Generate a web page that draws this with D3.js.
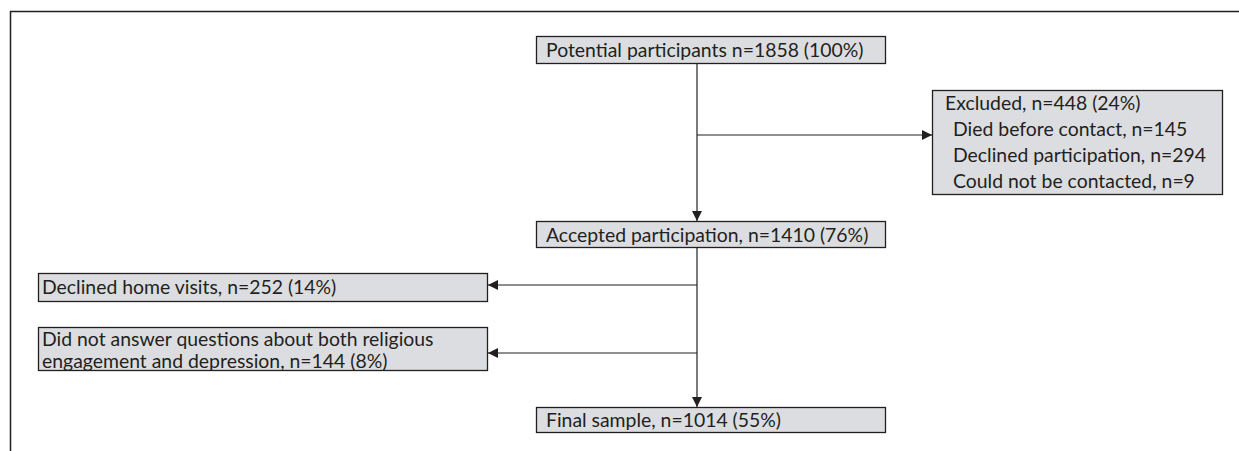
<!DOCTYPE html>
<html>
<head>
<meta charset="utf-8">
<script src="https://cdn.jsdelivr.net/npm/d3@7"></script>
<style>
  body { margin: 0; background: #fff; }
  text { font-family: Lato, "Open Sans", sans-serif; font-size: 19.4px; fill: #231f20; }
</style>
</head>
<body>
<div id="chart"></div>
<script>
// flow chart data
var mainSteps = ["Potential participants n=1858 (100%)", "Accepted participation, n=1410 (76%)", "Final sample, n=1014 (55%)"];
var excludedLines = ["Excluded, n=448 (24%)", "Died before contact, n=145", "Declined participation, n=294", "Could not be contacted, n=9"];
var dropLines = [["Declined home visits, n=252 (14%)"], ["Did not answer questions about both religious", "engagement and depression, n=144 (8%)"]];

var width = 1239, height = 451;
var ink = "#231f20", fill = "#dcdde0";

var svg = d3.select("#chart").append("svg")
    .attr("width", width)
    .attr("height", height);

svg.append("defs").append("marker")
    .attr("id", "arrow")
    .attr("viewBox", "0 0 10 10")
    .attr("refX", 10).attr("refY", 5)
    .attr("markerWidth", 10).attr("markerHeight", 10)
    .attr("markerUnits", "userSpaceOnUse")
    .attr("orient", "auto")
    .append("path")
    .attr("d", "M0,0L10,5L0,10Z")
    .attr("fill", ink);

// outer frame (top + left only)
svg.append("path")
    .attr("d", "M10.5,451V11.5H1239")
    .attr("fill", "none").attr("stroke", ink).attr("stroke-width", 1.5);

// main column boxes
var mainBox = [{y: 36, h: 27}, {y: 221, h: 26}, {y: 407, h: 25}];
var cx = 697;

mainSteps.forEach(function(label, i) {
    var b = mainBox[i];
    svg.append("rect")
        .attr("x", 536.5).attr("y", b.y + 0.5)
        .attr("width", 349).attr("height", b.h)
        .attr("fill", fill).attr("stroke", ink).attr("stroke-width", 1.3);
    svg.append("text")
        .attr("x", 546).attr("y", b.y + b.h / 2 + 1)
        .attr("dy", "0.35em")
        .text(label);
});

function line(x1, y1, x2, y2, arrow) {
    var l = svg.append("line")
        .attr("x1", x1).attr("y1", y1).attr("x2", x2).attr("y2", y2)
        .attr("stroke", ink).attr("stroke-width", 1.2);
    if (arrow) l.attr("marker-end", "url(#arrow)");
}

// vertical flow
line(cx, 63, cx, 221, true);
line(cx, 247, cx, 407, true);

// excluded box
var ex = {x: 932.5, y: 90.5, w: 290, h: 104};
line(cx, 135, ex.x - 0.5, 135, true);
svg.append("rect")
    .attr("x", ex.x).attr("y", ex.y).attr("width", ex.w).attr("height", ex.h)
    .attr("fill", fill).attr("stroke", ink).attr("stroke-width", 1.3);
excludedLines.forEach(function(t, i) {
    svg.append("text")
        .attr("x", i === 0 ? 945 : 953)
        .attr("y", 103 + i * 26)
        .attr("dy", "0.35em")
        .text(t);
});

// dropped boxes on the left
var dropBox = [{y: 273, h: 28, branch: 285}, {y: 327, h: 43, branch: 353}];
dropLines.forEach(function(lines, i) {
    var b = dropBox[i];
    line(cx, b.branch, 488, b.branch, true);
    svg.append("rect")
        .attr("x", 38.5).attr("y", b.y + 0.5).attr("width", 449).attr("height", b.h)
        .attr("fill", fill).attr("stroke", ink).attr("stroke-width", 1.3);
    var top = b.y + b.h / 2 - (lines.length - 1) * 11 + (lines.length - 1) * 2;
    lines.forEach(function(t, j) {
        svg.append("text")
            .attr("x", 42).attr("y", top + j * 22)
            .attr("dy", "0.35em")
            .text(t);
    });
});
</script>
</body>
</html>
